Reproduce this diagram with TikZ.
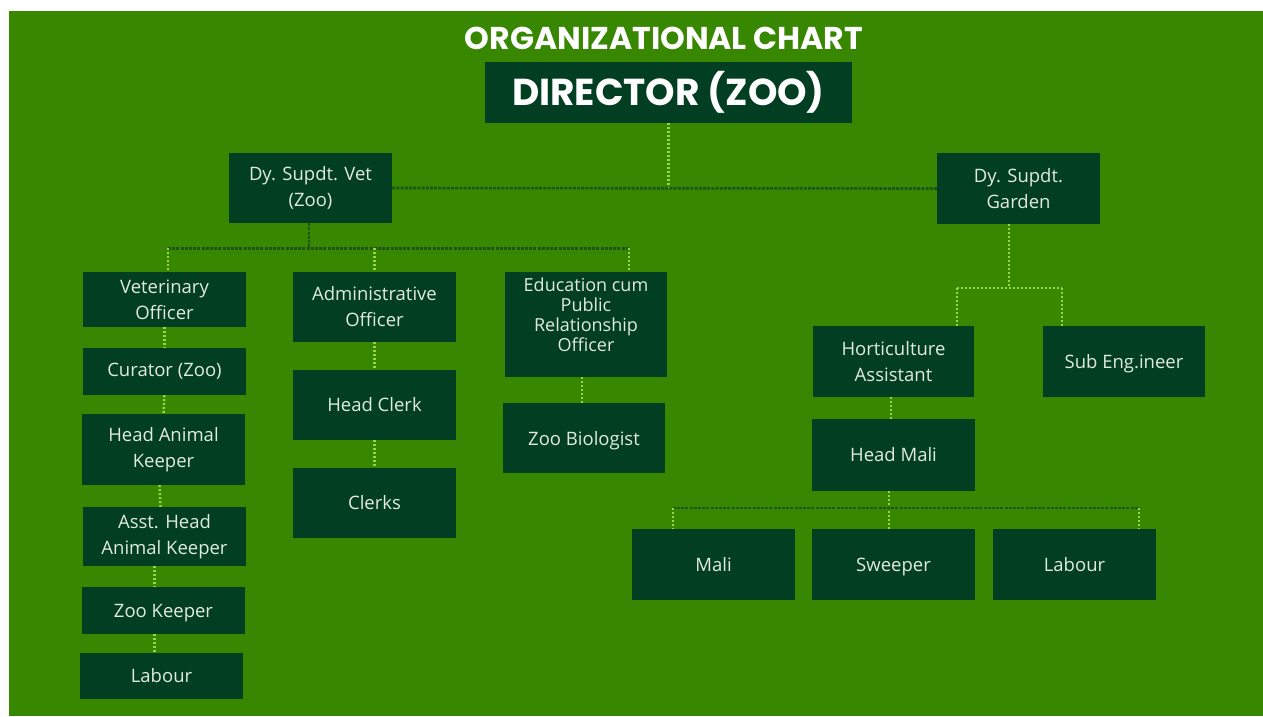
\documentclass[tikz,border=0pt]{standalone}
\usepackage{fontspec}
\setmainfont{Open Sans}
\newfontfamily\pop{Poppins}
\definecolor{bg}{RGB}{55,135,0}
\definecolor{boxc}{RGB}{1,62,34}
\definecolor{txt}{RGB}{226,234,222}
\definecolor{ltline}{RGB}{150,215,70}
\definecolor{dkline}{RGB}{30,85,28}
\newcommand{\nodep}[1]{\raisebox{0pt}[\height][0pt]{#1}}
\begin{document}
\begin{tikzpicture}[x=1pt,y=-1pt,
  box/.style={fill=boxc, text=txt, inner sep=0pt, align=center, minimum width=163pt,
    font=\fontsize{18.5}{26}\selectfont},
  lt/.style={draw=ltline, line width=2.4pt, dash pattern=on 2pt off 2pt},
  dk/.style={draw=dkline, line width=2.6pt, dash pattern=on 3pt off 1.2pt}]
\useasboundingbox (0,0) rectangle (1263,716);
\fill[white] (0,0) rectangle (1263,716);
\fill[bg] (9,11) rectangle (1263,716);

\node[text=white, font=\pop\bfseries\fontsize{31.5}{36}\selectfont] (title) at (664,38) {ORGANIZATIONAL CHART};
\node[box, minimum width=367pt, minimum height=61pt, text=white,
  font=\pop\bfseries\fontsize{37.5}{44}\selectfont] (dir) at (668.5,92.5) {DIRECTOR (ZOO)};

\node[box, minimum height=70pt] (vet) at (310.5,188) {Dy. Supdt. Vet\\(Zoo)};
\node[box, minimum height=71pt] (gar) at (1018.5,188.5) {Dy. Supdt.\\Garden};

\node[box, minimum height=55pt] (vo) at (164.5,299.5) {Veterinary\\Officer};
\node[box, minimum height=47pt] (cur) at (164.5,371.5) {Curator (Zoo)};
\node[box, minimum height=71pt] (hak) at (163.5,449.5) {Head Animal\\Keeper};
\node[box, minimum height=59pt] (ahak) at (164.5,536.5) {Asst. Head\\Animal Keeper};
\node[box, minimum height=47pt] (zk) at (163.5,610.5) {\nodep{Zoo Keeper}};
\node[box, minimum height=46pt] (lab1) at (161.5,676) {Labour};

\node[box, minimum height=70pt] (ao) at (374.5,307) {Administrative\\Officer};
\node[box, minimum height=70pt] (hc) at (374.5,405) {Head Clerk};
\node[box, minimum height=70pt] (cl) at (374.5,503) {Clerks};

\node[box, minimum width=162pt, minimum height=105pt, font=\fontsize{18}{20}\selectfont] (edu) at (586,324.5) {Education cum\\Public\\Relationship\\Officer\\[-1pt]};
\node[box, minimum width=162pt, minimum height=70pt] (zb) at (584,438) {\nodep{Zoo Biologist}};

\node[box, minimum width=161pt, minimum height=71pt] (ha) at (893.5,361.5) {Horticulture\\Assistant};
\node[box, minimum width=162pt, minimum height=71pt] (se) at (1124,361.5) {\nodep{Sub Eng.ineer}};
\node[box, minimum height=72pt] (hm) at (893.5,455) {Head Mali};

\node[box, minimum height=71pt] (mali) at (713.5,564.5) {Mali};
\node[box, minimum height=71pt] (sw) at (893.5,564.5) {\nodep{Sweeper}};
\node[box, minimum height=71pt] (lab2) at (1074.5,564.5) {Labour};

% director level
\draw[lt] (dir.south) -- (dir.south |- vet.east);
\draw[dk] (vet.east) -- (gar.west);

% vet branch
\draw[dk] ([xshift=-1.5pt]vet.south) -- ++(0,25) coordinate (vj);
\coordinate (vjl) at ([xshift=3.5pt]vo.north |- vj);
\coordinate (vjr) at ([xshift=-38pt]edu.north east |- vj);
\draw[dk] (vjl) -- (vjr);
\draw[lt] (vjl) -- ([xshift=3.5pt]vo.north);
\draw[lt] (ao.north |- vj) -- (ao.north);
\draw[lt] (vjr) -- ([xshift=-38pt]edu.north east);

\draw[lt] (vo.south) -- (cur.north);
\draw[lt] (cur.south) -- (hak.north);
\draw[lt] ([xshift=-4pt]hak.south) -- ([xshift=-4pt]ahak.north);
\draw[lt] ([xshift=-10pt]ahak.south) -- ([xshift=-9pt]zk.north);
\draw[lt] ([xshift=-9pt]zk.south) -- ([xshift=-7pt]lab1.north);

\draw[lt] (ao.south) -- (hc.north);
\draw[lt] (hc.south) -- (cl.north);
\draw[lt] ([xshift=-4pt]edu.south) -- ([xshift=-2pt]zb.north);

% garden branch
\draw[lt] ([xshift=-9.5pt]gar.south) -- ++(0,63.5) coordinate (gj);
\coordinate (gjl) at ([xshift=-17pt]ha.north east |- gj);
\coordinate (gjr) at ([xshift=19pt]se.north west |- gj);
\draw[lt] (gjl) -- (gjr);
\draw[lt] (gjl) -- ([xshift=-17pt]ha.north east);
\draw[lt] (gjr) -- ([xshift=19pt]se.north west);
\draw[lt] ([xshift=-2.5pt]ha.south) -- ([xshift=-2.5pt]hm.north);

% head mali branch
\draw[lt] ([xshift=-4.5pt]hm.south) -- ([xshift=-4.5pt]sw.north);
\coordinate (mj) at ([xshift=-4.5pt]hm.south |- 0,508);
\coordinate (mjl) at ([xshift=41pt]mali.north west |- mj);
\coordinate (mjr) at ([xshift=-17pt]lab2.north east |- mj);
\draw[dk] (mjl) -- (mjr);
\draw[lt] (mjl) -- ([xshift=41pt]mali.north west);
\draw[lt] (mjr) -- ([xshift=-17pt]lab2.north east);
\end{tikzpicture}
\end{document}
